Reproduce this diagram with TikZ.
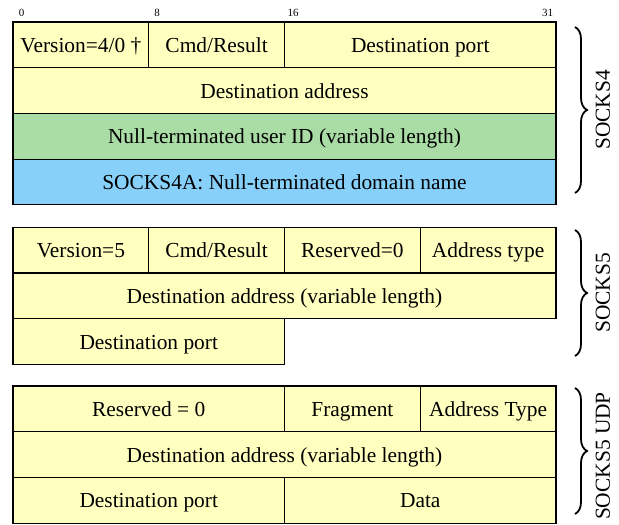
\documentclass[tikz,border=0pt]{standalone}
\usepackage{fontspec}
\setmainfont{Liberation Serif}
\usetikzlibrary{decorations.pathreplacing}
\definecolor{fldyellow}{RGB}{255,255,192}
\definecolor{fldgreen}{RGB}{170,220,165}
\definecolor{fldblue}{RGB}{135,208,250}
\tikzset{%
    fld/.style={draw=black,line width=0.6pt,fill=fldyellow,minimum height=22.85pt,
        inner sep=0pt,font=\fontsize{10.7}{12}\selectfont,text height=9pt,text depth=1.4pt},
    bitno/.style={inner sep=0pt,font=\fontsize{5.5}{6}\selectfont},
    brc/.style={decorate,decoration={brace,amplitude=6pt},line width=0.9pt},
    proto/.style={inner sep=0pt,rotate=90,font=\fontsize{10.7}{12}\selectfont}
}

\begin{document}
\begin{tikzpicture}[x=0.5pt,y=-0.5pt]
        \useasboundingbox (0,0) rectangle (619,524);

        % bit numbers
        \node[bitno] (b0) at (21.5,12.5){0};
        \node[bitno] (b8) at (157.2,12.5){8};
        \node[bitno] (b16) at (293,12.5){16};
        \node[bitno] (b31) at (547.5,12.5){31};

        % SOCKS4
        \node[fld,minimum width=67.875pt] (ver4) at (80.9,44.85){Version=4/0 \dag};
        \node[fld,minimum width=67.875pt] (cmd4) at (216.6,44.85){Cmd/Result};
        \node[fld,minimum width=135.75pt] (port4) at (420.25,44.85){Destination port};
        \node[fld,minimum width=271.5pt] (addr4) at (284.5,90.55){Destination address};
        \node[fld,minimum width=271.5pt,fill=fldgreen] (user4) at (284.5,136.25){Null-terminated user ID (variable length)};
        \node[fld,minimum width=271.5pt,fill=fldblue] (dom4) at (284.5,181.95){SOCKS4A: Null-terminated domain name};

        % SOCKS5
        \node[fld,minimum width=67.875pt] (ver5) at (80.9,250.15){Version=5};
        \node[fld,minimum width=67.875pt] (cmd5) at (216.6,250.15){Cmd/Result};
        \node[fld,minimum width=67.875pt] (rsv5) at (352.4,250.15){Reserved=0};
        \node[fld,minimum width=67.875pt] (atyp5) at (488.1,250.15){Address type};
        \node[fld,minimum width=271.5pt] (addr5) at (284.5,295.85){Destination address (variable length)};
        \node[fld,minimum width=135.75pt] (port5) at (148.75,341.55){Destination port};

        % SOCKS5 UDP
        \node[fld,minimum width=135.75pt] (rsvu) at (148.75,408.85){Reserved = 0};
        \node[fld,minimum width=67.875pt] (fragu) at (352.4,408.85){Fragment};
        \node[fld,minimum width=67.875pt] (atypu) at (488.1,408.85){Address Type};
        \node[fld,minimum width=271.5pt] (addru) at (284.5,454.55){Destination address (variable length)};
        \node[fld,minimum width=135.75pt] (portu) at (148.75,500.25){Destination port};
        \node[fld,minimum width=135.75pt] (datau) at (420.25,500.25){Data};

        % braces
        \coordinate (s4a) at (575,27);
        \coordinate (s4b) at (575,193);
        \coordinate (s5a) at (575,230);
        \coordinate (s5b) at (575,356);
        \coordinate (sua) at (575,388);
        \coordinate (sub) at (575,514);
        \draw[brc] (s4a) -- (s4b);
        \draw[brc] (s5a) -- (s5b);
        \draw[brc] (sua) -- (sub);

        \node[proto] (l4) at (603,110){SOCKS4};
        \node[proto] (l5) at (603,293){SOCKS5};
        \node[proto] (lu) at (603,456){SOCKS5 UDP};
    \end{tikzpicture}
\end{document}
